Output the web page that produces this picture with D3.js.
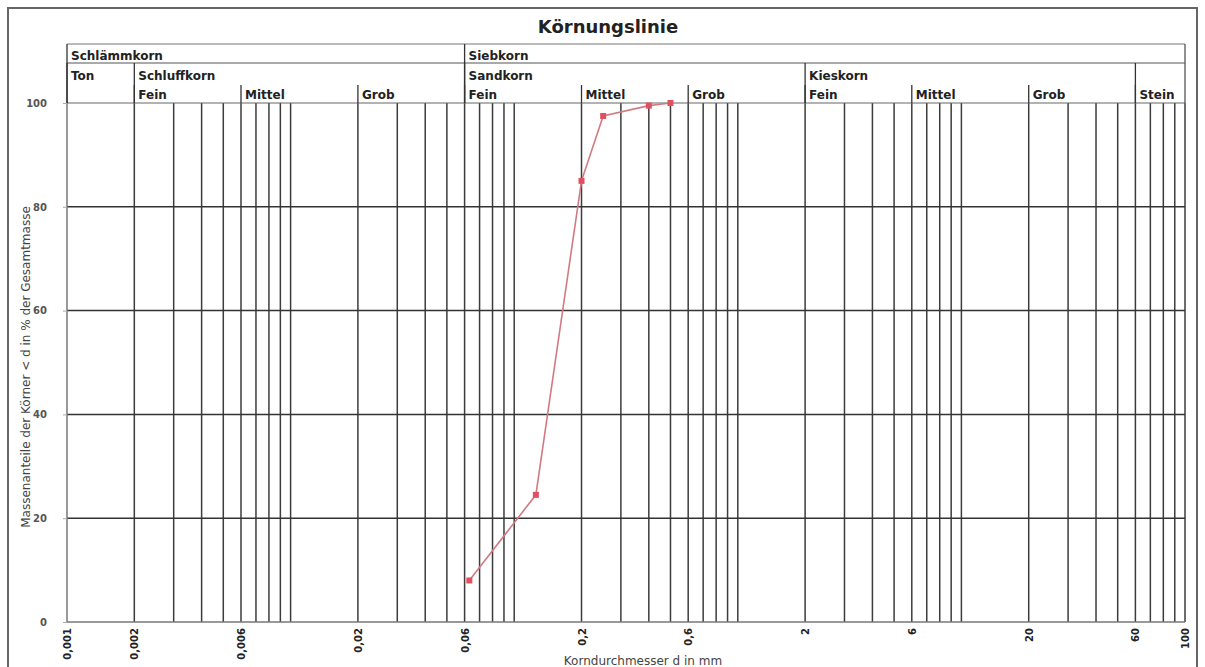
<!DOCTYPE html>
<html><head><meta charset="utf-8">
<script src="https://cdn.jsdelivr.net/npm/d3@7"></script>
<style>body{margin:0;background:#fff}svg{display:block}</style>
</head><body>
<svg id="c" width="1205" height="667"></svg>
<script>
// ---- data ----
const diameters = [0.063, 0.125, 0.2, 0.25, 0.4, 0.5];
const passing   = [8, 24.5, 85, 97.5, 99.5, 100];
const xTickValues = [0.001,0.002,0.006,0.02,0.06,0.2,0.6,2,6,20,60,100];
const xTickLabels = ["0,001","0,002","0,006","0,02","0,06","0,2","0,6","2","6","20","60","100"];
const yTicks = [0,20,40,60,80,100];
const gridMantissas = [2,3,4,5,6,7,8,9,10];
const gridDecades = [0.001,0.01,0.1,1,10];
const level1Names = ["Schlämmkorn","Siebkorn"];
const level1From  = [0.001,0.06];
const level2Names = ["Ton","Schluffkorn","Sandkorn","Kieskorn",""];
const level2From  = [0.001,0.002,0.06,2,60];
const level3Names = ["Fein","Mittel","Grob","Fein","Mittel","Grob","Fein","Mittel","Grob","Stein"];
const level3From  = [0.002,0.006,0.02,0.06,0.2,0.6,2,6,20,60];

const svg = d3.select("#c");
const L = 67, R = 1185, T = 103, B = 622;
const x = d3.scaleLog().domain([0.001,100]).range([L,R]);
const y = d3.scaleLinear().domain([0,100]).range([B,T]);

// outer frame
svg.append("rect").attr("x",8).attr("y",8).attr("width",1189).attr("height",700)
  .attr("fill","none").attr("stroke","#666").attr("stroke-width",2);

// title
svg.append("text").attr("x",608).attr("y",33).attr("text-anchor","middle")
  .attr("font-family","DejaVu Sans").attr("font-weight","bold").attr("font-size",18)
  .attr("fill","#222").text("Körnungslinie");

// vertical grid
const gridVals = [];
gridDecades.forEach(d => gridMantissas.forEach(m => gridVals.push(+(d*m).toPrecision(6))));
svg.append("g").selectAll("line").data(gridVals).join("line")
  .attr("x1",d=>x(d)).attr("x2",d=>x(d)).attr("y1",T).attr("y2",B)
  .attr("stroke","#3c3c3c").attr("stroke-width",1.5);

// horizontal grid
svg.append("g").selectAll("line").data(yTicks.filter(v=>v>0&&v<100)).join("line")
  .attr("x1",L).attr("x2",R).attr("y1",d=>y(d)).attr("y2",d=>y(d))
  .attr("stroke","#333").attr("stroke-width",1.5);

// axes lines
svg.append("line").attr("x1",L).attr("x2",R).attr("y1",B).attr("y2",B).attr("stroke","#777").attr("stroke-width",1.5);
svg.append("line").attr("x1",L).attr("x2",L).attr("y1",T).attr("y2",B).attr("stroke","#777").attr("stroke-width",1.5);
svg.append("line").attr("x1",L).attr("x2",R).attr("y1",T).attr("y2",T).attr("stroke","#666").attr("stroke-width",1.2);

// y axis
const yAxis = d3.axisLeft(y).tickValues(yTicks).tickSize(4).tickFormat(d3.format("d"));
const ya = svg.append("g").attr("transform",`translate(${L},0)`).call(yAxis);
ya.select(".domain").remove();
ya.selectAll("line").attr("stroke","#aaa");
ya.selectAll("text").attr("font-family","DejaVu Sans").attr("font-size",10).attr("font-weight","bold").attr("fill","#555").attr("dx",-13);

// x axis
const xAxis = d3.axisBottom(x).tickValues(xTickValues).tickSize(0)
  .tickFormat((d,i)=>xTickLabels[i]);
const xa = svg.append("g").attr("transform",`translate(0,${B})`).call(xAxis);
xa.select(".domain").remove();
xa.selectAll("text").attr("font-family","DejaVu Sans").attr("font-size",10).attr("font-weight","bold").attr("fill","#222")
  .attr("transform","rotate(-90)").attr("text-anchor","end").attr("x",-6).attr("y",0).attr("dy","0.35em");

// axis titles
svg.append("text").attr("transform","translate(30,367) rotate(-90)").attr("text-anchor","middle")
  .attr("font-family","DejaVu Sans").attr("font-size",12).attr("fill","#444")
  .text("Massenanteile der Körner < d in % der Gesamtmasse");
svg.append("text").attr("x",643).attr("y",665).attr("text-anchor","middle")
  .attr("font-family","DejaVu Sans").attr("font-size",12).attr("fill","#444")
  .text("Korndurchmesser d in mm");

// header classification
const hdr = svg.append("g").attr("font-family","DejaVu Sans").attr("font-weight","bold").attr("font-size",12).attr("fill","#222");
const ln = (x1,y1,x2,y2,w=1.3,c="#333") => hdr.append("line").attr("x1",x1).attr("y1",y1).attr("x2",x2).attr("y2",y2).attr("stroke",c).attr("stroke-width",w);
ln(L,44,R,44,1,"#777");
ln(L,63,R,63,1,"#555");
ln(R,44,R,T,1.3,"#555");
level1From.forEach((v,i)=>{ ln(x(v),44,x(v),T); hdr.append("text").attr("x",x(v)+4).attr("y",60).text(level1Names[i]); });
level2From.forEach((v,i)=>{ ln(x(v),63,x(v),T); if(level2Names[i]) hdr.append("text").attr("x",x(v)+4).attr("y",80).text(level2Names[i]); });
level3From.forEach((v,i)=>{ ln(x(v),85,x(v),T); hdr.append("text").attr("x",x(v)+4).attr("y",99).text(level3Names[i]); });

// data line
const pts = diameters.map((d,i)=>[d,passing[i]]);
svg.append("path").datum(pts)
  .attr("d",d3.line().x(d=>x(d[0])).y(d=>y(d[1])))
  .attr("fill","none").attr("stroke","#d27a84").attr("stroke-width",1.6);
svg.append("g").selectAll("rect").data(pts).join("rect")
  .attr("x",d=>x(d[0])-3).attr("y",d=>y(d[1])-3).attr("width",6).attr("height",6)
  .attr("fill","#e0505f");
</script>
</body></html>
